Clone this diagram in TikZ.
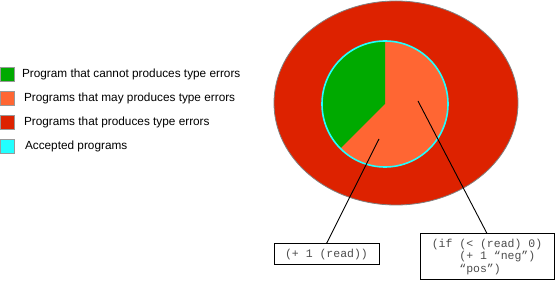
\documentclass[tikz,border=0pt]{standalone}
\usepackage{fontspec}
\setmainfont{Liberation Sans}
\setmonofont{Liberation Mono}
\usetikzlibrary{positioning}
\definecolor{safegreen}{HTML}{00AA00}
\definecolor{mayorange}{HTML}{FF6633}
\definecolor{errred}{HTML}{DD2200}
\definecolor{acccyan}{HTML}{22FFFF}
\tikzset{
  keybox/.style={rectangle, draw=gray!80, line width=0.8pt, minimum size=14pt, inner sep=0pt},
  keytext/.style={anchor=west, inner sep=0pt, font=\fontsize{11.8}{13}\selectfont},
  codebox/.style={rectangle, draw=black, line width=1pt, align=left, text=black!70,
                  font=\ttfamily\fontsize{11.5}{12.5}\selectfont},
  pointer/.style={black, line width=0.9pt},
}

\begin{document}
\begin{tikzpicture}[x=1pt, y=1pt]
  \useasboundingbox (0,0) rectangle (555,281);

  % legend
  \node[keybox, fill=safegreen, anchor=west] (kgreen) at (0,207) {};
  \node[keybox, fill=mayorange, below=9.5pt of kgreen] (korange) {};
  \node[keybox, fill=errred,    below=9.5pt of korange] (kred) {};
  \node[keybox, fill=acccyan,   below=9.5pt of kred] (kcyan) {};
  \node[keytext, right=7pt of kgreen]  (tgreen)  {Program that cannot produces type errors};
  \node[keytext, right=9pt of korange] (torange) {Programs that may produces type errors};
  \node[keytext, right=9pt of kred]    (tred)    {Programs that produces type errors};
  \node[keytext, right=10pt of kcyan]  (tcyan)   {Accepted programs};

  % sets of programs
  \fill[errred, draw=gray, line width=0.8pt] (396,178) ellipse [x radius=122, y radius=102];
  \fill[mayorange] (385,177) circle [radius=63];
  \fill[safegreen] (385,177) -- ++(90:63) arc [start angle=90, end angle=225, radius=63] -- cycle;
  \draw[acccyan, line width=1.6pt] (385,177) circle [radius=63];

  % examples
  \node[codebox, minimum width=105pt, minimum height=21pt] (plain) at (326.5,26.5)
    {(+ 1 (read))};
  \node[codebox, minimum width=134pt, minimum height=46pt] (branch) at (487,24)
    {(if (< (read) 0)\\\ \ \ \ (+ 1 “neg”)\\\ \ \ \ “pos”)};

  \coordinate (inplain) at (379,142);
  \coordinate (inbranch) at (418,180);
  \draw[pointer] (inplain) -- (plain.north);
  \draw[pointer] (inbranch) -- (branch.north);
\end{tikzpicture}
\end{document}
